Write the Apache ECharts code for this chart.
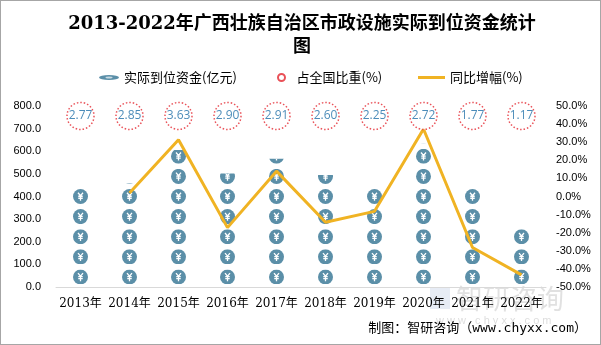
<!DOCTYPE html>
<html>
<head>
<meta charset="utf-8">
<script src="https://cdn.jsdelivr.net/npm/echarts@6/dist/echarts.min.js"></script>
<style>
  html, body { margin: 0; padding: 0; background: #fff; }
  #chart { width: 601px; height: 345px; box-sizing: border-box; border: 1px solid #a6a6a6; }
</style>
</head>
<body>
<div id="chart"></div>
<script>
// data
const years = ['2013年', '2014年', '2015年', '2016年', '2017年', '2018年', '2019年', '2020年', '2021年', '2022年']
const funds = [445, 458, 606, 502, 567, 495, 451, 633, 451, 257] // 亿元
const shares = [2.77, 2.85, 3.63, 2.90, 2.91, 2.60, 2.25, 2.72, 1.77, 1.17] // %
const growth = [null, 1.9, 31.3, -17.2, 14.0, -14.2, -8.2, 37.3, -28.2, -43.3] // %

// the share circles sit in one row near the top of the left axis
const shareRow = 756

const coinSvg =
  "<svg xmlns='http://www.w3.org/2000/svg' viewBox='0 0 30 30'>" +
  "<circle cx='15' cy='15' r='15' fill='#5b8fa8'/>" +
  "<path d='M10 7.5 L15 13.5 L20 7.5 M15 13.5 V23.5 M10.5 14.5 H19.5 M10.5 18.5 H19.5' stroke='#fff' stroke-width='2.6' fill='none'/>" +
  '</svg>'
const coin = 'image://data:image/svg+xml;charset=utf-8,' + encodeURIComponent(coinSvg)

const flatCoinSvg =
  "<svg xmlns='http://www.w3.org/2000/svg' viewBox='0 0 40 10' preserveAspectRatio='none'>" +
  "<ellipse cx='20' cy='5' rx='20' ry='5' fill='#5b8fa8'/>" +
  "<ellipse cx='20' cy='5' rx='7' ry='2' fill='#c9dbe4'/>" +
  '</svg>'
const flatCoin = 'image://data:image/svg+xml;charset=utf-8,' + encodeURIComponent(flatCoinSvg)

const legendText = { fontSize: 13, color: '#000', fontFamily: 'Noto Sans CJK SC' }
const axisFont = 'Liberation Sans'

const chart = echarts.init(document.getElementById('chart'))

chart.setOption({
  animation: false,
  legend: [
    {
      data: [{ name: '实际到位资金(亿元)', icon: flatCoin }],
      left: 93, top: 65, itemWidth: 20, itemHeight: 5,
      symbolKeepAspect: false,
      textStyle: legendText
    },
    {
      data: [{ name: '占全国比重(%)', icon: 'circle' }],
      left: 271, top: 65, itemWidth: 20, itemHeight: 7,
      textStyle: legendText
    },
    {
      data: [{ name: '同比增幅(%)', icon: 'rect' }],
      left: 412, top: 65, itemWidth: 27, itemHeight: 3,
      textStyle: legendText
    }
  ],
  grid: { left: 55, right: 54, top: 105, bottom: 57 },
  xAxis: {
    type: 'category',
    data: years,
    axisLine: { lineStyle: { color: '#d9d9d9', width: 1 } },
    axisTick: { show: false },
    axisLabel: {
      interval: 0,
      color: '#000', fontSize: 12, margin: 11,
      fontFamily: "'DejaVu Serif', 'Noto Sans CJK SC'"
    }
  },
  yAxis: [
    {
      type: 'value', min: 0, max: 800, interval: 100,
      splitLine: { show: false },
      axisLine: { show: false },
      axisLabel: {
        color: '#000', fontSize: 11, margin: 15, fontFamily: axisFont,
        formatter: (v) => v.toFixed(1)
      }
    },
    {
      type: 'value', min: -50, max: 50, interval: 10,
      splitLine: { show: false },
      axisLine: { show: false },
      axisLabel: {
        color: '#000', fontSize: 11, margin: 10, fontFamily: axisFont,
        formatter: (v) => v.toFixed(1) + '%'
      }
    }
  ],
  series: [
    {
      name: '实际到位资金(亿元)',
      type: 'pictorialBar',
      data: funds,
      symbol: coin,
      symbolSize: [15, 15],
      symbolRepeat: 'fixed',
      symbolMargin: '3!',
      symbolClip: true,
      symbolBoundingData: 800,
      z: 2
    },
    {
      name: '同比增幅(%)',
      type: 'line',
      yAxisIndex: 1,
      data: growth,
      showSymbol: false,
      symbol: 'none',
      lineStyle: { color: '#f0b323', width: 3 },
      itemStyle: { color: '#f0b323' },
      z: 4
    },
    {
      name: '占全国比重(%)',
      type: 'scatter',
      data: years.map(() => shareRow),
      symbol: 'circle',
      symbolSize: 27,
      itemStyle: {
        color: '#fff',
        borderColor: '#e3262e',
        borderWidth: 1.5,
        borderType: [1.5, 2]
      },
      label: {
        show: true,
        position: 'inside',
        color: '#1f6fa8',
        fontSize: 12,
        fontFamily: 'Open Sans',
        formatter: (p) => shares[p.dataIndex].toFixed(2)
      },
      z: 5
    }
  ],
  graphic: [
    {
      type: 'text',
      x: 301,
      y: 12,
      style: {
        text: '2013-2022年广西壮族自治区市政设施实际到位资金统计\n图',
        align: 'center',
        verticalAlign: 'top',
        fontSize: 18,
        fontWeight: 'bold',
        lineHeight: 23,
        fill: '#000',
        fontFamily: "'DejaVu Serif', 'Noto Sans CJK SC'"
      }
    },
    {
      type: 'group',
      left: 429, top: 284,
      silent: true,
      z: 0,
      children: [
        { type: 'rect', shape: { x: 0, y: 2, width: 20, height: 22 }, style: { fill: 'rgba(120,150,200,0.18)' } },
        { type: 'text', style: { x: 26, y: 0, text: '智研咨询', fontSize: 27, fill: 'rgba(120,120,120,0.22)', fontFamily: 'Noto Sans CJK SC' } },
        { type: 'text', style: { x: 6, y: 30, text: 'w w w . c h y x x . c o m', fontSize: 11, fill: 'rgba(120,120,120,0.25)', fontFamily: axisFont } }
      ]
    },
    {
      type: 'text',
      right: 13,
      top: 321,
      style: {
        text: '制图：智研咨询（www.chyxx.com）',
        fontSize: 13,
        fill: '#000',
        fontFamily: "'DejaVu Sans Mono', 'Noto Sans CJK SC'"
      }
    }
  ]
})
</script>
</body>
</html>
